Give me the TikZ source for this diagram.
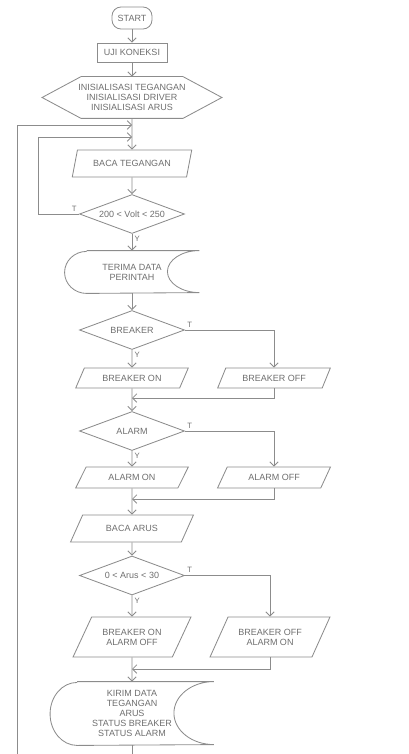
\documentclass[tikz,border=0pt]{standalone}
\usepackage{fontspec}
\setmainfont{Liberation Sans}
\usetikzlibrary{shapes.geometric,arrows.meta}

\definecolor{abu}{RGB}{140,140,140}
\definecolor{abuteks}{RGB}{110,110,110}
\newdimen\pxu \pxu=0.025cm

\tikzset{
    tulisan/.style={font=\fontsize{6.4}{7}\selectfont, text=abuteks, align=center},
    terminal/.style={tulisan, draw=abu, rounded corners=9\pxu, minimum width=40\pxu, minimum height=22\pxu, inner sep=0pt},
    proses/.style={tulisan, draw=abu, minimum width=70\pxu, minimum height=19\pxu, inner sep=0pt},
    kotak/.style={tulisan, inner sep=0pt},
    keputusan/.style={tulisan, draw=abu, shape=diamond, shape aspect=2.7, inner sep=0pt, minimum width=105\pxu, minimum height=39\pxu},
    io/.style={tulisan, draw=abu, trapezium, trapezium left angle=50, trapezium right angle=130, trapezium stretches=true, inner sep=0pt, minimum height=20\pxu},
    alur/.style={draw=abu},
    tanda/.style={tulisan, font=\fontsize{5.5}{6}\selectfont, inner sep=1.5pt},
}

\begin{document}
\begin{tikzpicture}[x=0.025cm, y=-0.025cm, line width=0.6pt, >={Straight Barb[length=3pt,width=6pt]}]
        \useasboundingbox (0,0) rectangle (408,754);

        % Mulai
        \node[terminal] (start) at (132,18) {START};
        \node[proses] (uji) at (132,52.5) {UJI KONEKSI};

        % Inisialisasi
        \node[kotak, minimum width=179\pxu, minimum height=41\pxu] (init) at (132,97.5) {INISIALISASI TEGANGAN\\INISIALISASI DRIVER\\INISIALISASI ARUS};
        \draw[alur] (init.west) -- ([xshift=39\pxu]init.north west) -- ([xshift=-39\pxu]init.north east) -- (init.east) -- ([xshift=-39\pxu]init.south east) -- ([xshift=39\pxu]init.south west) -- cycle;

        % Titik masuk loop
        \coordinate (lp1) at (132,125);
        \coordinate (lp2) at (132,137);
        \coordinate (bawah) at (17,754);

        % Baca tegangan
        \node[io, trapezium left angle=60, trapezium right angle=120, minimum width=120\pxu, minimum height=27\pxu] (baca) at (132,163.5) {BACA TEGANGAN};
        \node[keputusan] (volt) at (132,214) {200 < Volt < 250};

        % Terima data perintah
        \node[kotak, minimum width=134\pxu, minimum height=42\pxu] (terima) at (132,272) {TERIMA DATA\\PERINTAH};
        \draw[alur] ([xshift=22\pxu]terima.north west) -- (terima.north east) arc[start angle=90, end angle=270, x radius=32\pxu, y radius=21\pxu] -- ([xshift=22\pxu]terima.south west) arc[start angle=270, end angle=90, x radius=22\pxu, y radius=21\pxu];

        % Breaker
        \node[keputusan] (breaker) at (132,330) {BREAKER};
        \node[io, minimum width=113\pxu] (bon) at (132,378) {BREAKER ON};
        \node[io, minimum width=113\pxu] (boff) at (274,378) {BREAKER OFF};
        \coordinate (j1) at (132,398);

        % Alarm
        \node[keputusan] (alarm) at (132,431) {ALARM};
        \node[io, minimum width=113\pxu, minimum height=21\pxu] (aon) at (132,477.5) {ALARM ON};
        \node[io, minimum width=113\pxu, minimum height=21\pxu] (aoff) at (274,477.5) {ALARM OFF};
        \coordinate (j2) at (132,499);

        % Baca arus
        \node[io, trapezium left angle=45, trapezium right angle=135, minimum width=123\pxu, minimum height=27\pxu] (arus) at (132,528.5) {BACA ARUS};
        \node[keputusan] (cekarus) at (132,575.5) {0 < Arus < 30};
        \node[io, minimum width=118\pxu, minimum height=40\pxu] (bon2) at (132,637) {BREAKER ON\\ALARM OFF};
        \node[io, minimum width=120\pxu, minimum height=40\pxu] (boff2) at (270,637) {BREAKER OFF\\ALARM ON};
        \coordinate (j3) at (132,669);

        % Kirim data
        \node[kotak, minimum width=163\pxu, minimum height=63\pxu] (kirim) at (132,713.5) {KIRIM DATA\\TEGANGAN\\ARUS\\STATUS BREAKER\\STATUS ALARM};
        \draw[alur] ([xshift=27\pxu]kirim.north west) -- (kirim.north east) arc[start angle=90, end angle=270, x radius=40\pxu, y radius=31.5\pxu] -- ([xshift=27\pxu]kirim.south west) arc[start angle=270, end angle=90, x radius=27\pxu, y radius=31.5\pxu];

        % Alur utama
        \draw[alur, ->] (start) -- (uji);
        \draw[alur, ->] (uji) -- (init);
        \draw[alur, ->] (init) -- (baca);
        \draw[alur, ->] (baca) -- (volt);
        \draw[alur, ->] (volt) -- (terima) node[tanda, pos=0, below right] {Y};
        \draw[alur, ->] (volt.west) node[tanda, above left] {T} -- ++(-41,0) |- (lp2);
        \draw[alur, ->] (terima) -- (breaker);
        \draw[alur, ->] (breaker) -- (bon) node[tanda, pos=0, below right] {Y};
        \draw[alur, ->] (breaker.east) node[tanda, above right] {T} -| (boff.north);
        \draw[alur, ->] (boff.south) |- (j1);
        \draw[alur, ->] (bon) -- (alarm);
        \draw[alur, ->] (alarm) -- (aon) node[tanda, pos=0, below right] {Y};
        \draw[alur, ->] (alarm.east) node[tanda, above right] {T} -| (aoff.north);
        \draw[alur, ->] (aoff.south) |- (j2);
        \draw[alur, ->] (aon) -- (arus);
        \draw[alur, ->] (arus) -- (cekarus);
        \draw[alur, ->] (cekarus) -- (bon2) node[tanda, pos=0, below right] {Y};
        \draw[alur, ->] (cekarus.east) node[tanda, above right] {T} -| (boff2.north);
        \draw[alur, ->] (boff2.south) |- (j3);
        \draw[alur, ->] (bon2) -- (kirim);

        % Loop luar
        \draw[alur] (kirim) -- (kirim.south |- bawah);
        \draw[alur, ->] (bawah) |- (lp1);

    \end{tikzpicture}
\end{document}
